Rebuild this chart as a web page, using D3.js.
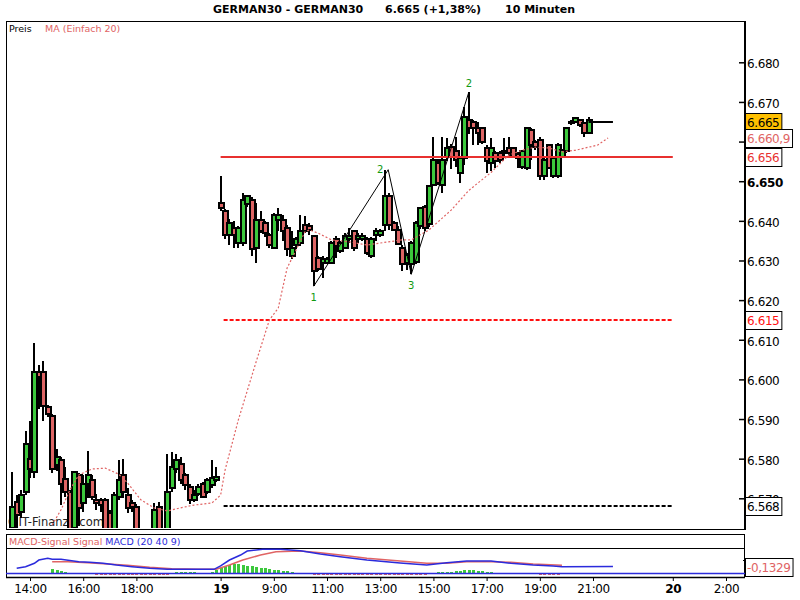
<!DOCTYPE html>
<html>
<head>
<meta charset="utf-8">
<script src="https://cdn.jsdelivr.net/npm/d3@7"></script>
<style>
  body { margin: 0; background: #fff; }
  text { font-family: "DejaVu Sans", Verdana, sans-serif; }
</style>
</head>
<body>
<svg width="800" height="600"></svg>
<script>
// 10-minute bars, slot 0 = 14:00 on the 18th (night hours removed)
const candleSlot = [-4, -3, -2, -1, 0, 1, 2, 3, 4, 5, 6, 7, 8, 9, 10, 11, 12, 13, 14, 15, 16, 17, 18, 19, 20, 21, 22, 23, 24, 25, 26, 27, 28, 29, 30, 31, 32, 33, 34, 35, 36, 37, 38, 39, 40, 41, 42,
  43, 44, 45, 46, 47, 48, 49, 50, 51, 52, 53, 54, 55, 56, 57, 58, 59, 60, 61, 62, 63, 64, 65, 66, 67, 68, 69, 70, 71, 72, 73, 74, 75, 76, 77, 78, 79, 80, 81, 82, 83, 84,
  85, 86, 87, 88, 89, 90, 91, 92, 93, 94, 95, 96, 97, 98, 99, 100, 101, 102, 103, 104, 105, 106, 107, 108, 109, 110, 111, 112, 113, 114, 115, 116, 117, 118, 119, 120, 121, 122, 123, 124, 125, 126];
const candleOpen = [6562.5, 6569.1, 6566.6, 6571.6, 6580.0, 6576.7, 6601.8, 6601.8, 6593.0, 6590.7, 6578.3, 6579.6, 6574.8, 6571.6, 6562.5, 6575.8, 6568.7, 6573.7, 6574.5, 6569.5, 6569.5, 6569.5, 6566.2, 6562.0, 6570.4, 6575.8, 6570.8, 6568.7, 6567.9, 6561.0, 6558.0, 6560.0, 6561.0, 6567.9, 6562.0, 6560.5, 6572.5, 6577.5, 6578.7, 6575.8, 6572.9, 6569.5, 6571.0, 6573.7, 6571.6, 6573.3, 6574.5,
  6644.5, 6642.4, 6636.5, 6638.2, 6634.4, 6634.4, 6644.3, 6645.3, 6633.2, 6640.3, 6639.5, 6636.5, 6633.2, 6640.3, 6640.3, 6638.2, 6631.1, 6634.0, 6634.4, 6639.0, 6638.6, 6636.1, 6630.7, 6629.4, 6629.4, 6629.4, 6635.3, 6632.4, 6633.2, 6635.3, 6637.4, 6635.3, 6635.3, 6635.3, 6631.1, 6636.5, 6636.5, 6639.0, 6646.2, 6639.5, 6637.8, 6633.2,
  6629.4, 6629.0, 6629.5, 6638.6, 6643.6, 6639.1, 6649.1, 6654.5, 6649.1, 6656.2, 6658.7, 6657.5, 6652.0, 6655.8, 6665.4, 6665.0, 6663.3, 6663.3, 6658.3, 6654.5, 6657.1, 6657.1, 6657.1, 6658.3, 6658.3, 6656.9, 6653.5, 6653.3, 6662.9, 6660.0, 6660.4, 6651.2, 6659.1, 6651.2, 6651.2, 6656.2, 6657.5, 6664.6, 6665.0, 6665.4, 6664.6, 6662.1];
const candleHigh = [6576.7, 6570.8, 6572.0, 6587.1, 6589.6, 6609.3, 6603.6, 6604.7, 6593.5, 6591.3, 6582.5, 6580.4, 6577.9, 6572.0, 6577.0, 6576.5, 6575.8, 6582.0, 6576.0, 6571.0, 6570.0, 6570.0, 6567.0, 6571.5, 6579.6, 6580.0, 6572.5, 6569.5, 6568.5, 6562.5, 6561.0, 6562.0, 6568.7, 6569.0, 6562.5, 6581.2, 6581.8, 6581.2, 6580.4, 6576.5, 6573.5, 6572.0, 6573.5, 6574.2, 6575.0, 6579.6, 6578.0,
  6651.4, 6643.0, 6640.5, 6639.9, 6638.6, 6647.0, 6646.6, 6646.0, 6644.5, 6642.4, 6640.0, 6637.0, 6642.0, 6643.2, 6641.6, 6639.0, 6637.4, 6636.0, 6641.6, 6641.2, 6639.5, 6636.5, 6631.1, 6631.1, 6631.0, 6634.8, 6636.1, 6635.0, 6637.0, 6638.2, 6637.8, 6637.0, 6637.0, 6636.0, 6635.8, 6638.2, 6638.0, 6652.9, 6647.0, 6640.0, 6638.6, 6634.0,
  6632.0, 6635.0, 6640.0, 6643.5, 6644.0, 6649.0, 6661.2, 6655.5, 6661.2, 6661.0, 6659.5, 6661.2, 6656.0, 6668.8, 6672.5, 6665.5, 6665.0, 6663.8, 6659.1, 6660.8, 6657.5, 6657.5, 6660.8, 6661.2, 6658.7, 6657.3, 6658.0, 6663.5, 6663.3, 6660.5, 6661.2, 6655.8, 6659.5, 6656.0, 6659.6, 6658.0, 6663.8, 6665.4, 6666.3, 6665.8, 6665.0, 6666.3];
const candleLow = [6561.0, 6561.0, 6565.0, 6570.8, 6575.0, 6575.0, 6592.6, 6589.6, 6590.5, 6576.3, 6577.0, 6568.3, 6570.4, 6560.0, 6560.0, 6563.0, 6566.5, 6570.0, 6569.5, 6567.0, 6566.6, 6560.0, 6560.0, 6560.0, 6569.5, 6570.0, 6566.2, 6566.6, 6560.0, 6556.0, 6555.0, 6557.0, 6559.0, 6560.0, 6558.0, 6560.0, 6571.5, 6576.5, 6573.5, 6572.0, 6568.5, 6569.0, 6570.5, 6570.0, 6571.0, 6572.5, 6574.0,
  6642.4, 6635.3, 6634.0, 6633.2, 6633.2, 6633.6, 6643.6, 6631.1, 6629.4, 6636.9, 6636.0, 6633.2, 6632.8, 6637.4, 6634.8, 6631.1, 6630.3, 6633.0, 6633.6, 6636.9, 6636.5, 6623.5, 6627.3, 6625.6, 6629.0, 6629.0, 6630.7, 6632.0, 6632.8, 6634.4, 6632.4, 6634.5, 6634.8, 6631.5, 6630.7, 6634.8, 6636.0, 6637.4, 6637.8, 6637.4, 6634.0, 6627.3,
  6627.5, 6626.5, 6629.0, 6638.0, 6637.5, 6638.5, 6648.7, 6649.0, 6647.0, 6655.0, 6653.0, 6653.7, 6649.5, 6654.0, 6662.0, 6659.1, 6659.1, 6659.5, 6652.0, 6652.5, 6653.3, 6654.5, 6655.8, 6656.2, 6655.8, 6653.3, 6653.0, 6652.9, 6655.4, 6658.0, 6650.4, 6650.4, 6653.0, 6650.8, 6650.8, 6655.8, 6657.0, 6664.2, 6664.8, 6663.8, 6661.2, 6661.8];
const candleClose = [6567.9, 6565.8, 6570.8, 6583.8, 6577.5, 6601.8, 6600.5, 6593.4, 6591.3, 6577.5, 6580.4, 6573.7, 6571.6, 6562.0, 6576.7, 6567.5, 6573.7, 6575.8, 6570.4, 6568.7, 6568.2, 6562.0, 6562.0, 6570.8, 6574.5, 6571.6, 6567.5, 6567.9, 6562.0, 6558.0, 6560.0, 6561.0, 6567.0, 6562.0, 6560.0, 6571.6, 6577.9, 6579.6, 6574.5, 6573.3, 6569.5, 6570.8, 6572.9, 6570.4, 6574.5, 6575.0, 6575.4,
  6643.2, 6636.5, 6639.5, 6636.5, 6638.2, 6645.3, 6646.3, 6632.8, 6640.3, 6637.4, 6637.0, 6634.0, 6641.6, 6641.6, 6637.4, 6632.8, 6633.2, 6635.3, 6637.4, 6637.4, 6637.6, 6627.3, 6627.8, 6630.3, 6630.3, 6634.4, 6633.6, 6634.4, 6636.3, 6636.3, 6633.2, 6636.1, 6636.3, 6631.9, 6635.3, 6637.4, 6637.4, 6646.2, 6639.0, 6637.8, 6634.2, 6629.0,
  6631.5, 6634.4, 6639.5, 6643.2, 6638.2, 6648.7, 6655.4, 6649.5, 6655.4, 6658.3, 6656.2, 6655.4, 6655.8, 6666.3, 6663.3, 6663.3, 6662.1, 6660.0, 6655.0, 6658.3, 6655.0, 6655.4, 6657.5, 6657.1, 6656.2, 6655.8, 6657.5, 6663.3, 6659.1, 6658.7, 6651.2, 6655.4, 6653.3, 6655.8, 6659.1, 6657.9, 6663.3, 6665.0, 6665.9, 6664.2, 6662.1, 6665.4];

// MA (Einfach 20)
const maSlot = [5, 7, 9, 11, 14, 17, 20, 22, 25, 28, 31, 34, 37, 41, 43, 44, 47, 51, 54, 56, 58, 60, 62, 63, 65, 68, 72, 76, 79, 84, 86, 90, 95, 99, 104, 108, 111, 114, 117, 120, 123, 128, 130.4];
const maValue = [6563.3, 6567.1, 6572.1, 6575.9, 6577.4, 6577.6, 6576.1, 6573.9, 6569.6, 6567.6, 6566.8, 6567.6, 6568.3, 6568.8, 6570.8, 6577.1, 6589.8, 6604.4, 6615.0, 6618.0, 6628.1, 6632.6, 6637.2, 6637.7, 6636.9, 6635.2, 6634.7, 6633.9, 6634.4, 6635.2, 6635.2, 6637.7, 6642.7, 6647.7, 6652.2, 6656.6, 6657.8, 6658.6, 6658.4, 6657.4, 6657.8, 6659.1, 6660.9];

// zigzag pivots
const zigSlot = [64, 80.8, 86, 99];
const zigValue = [6623.5, 6652.9, 6626.5, 6672.5];
const zigLabel = ['1', '2', '3', '2'];

// horizontal levels (from the start of the 19th to the 20th)
const levelValue = [6656, 6615, 6568];
const levelFrom = 43, levelTo = 145;
const lastPrice = 6665, lastFrom = 126, lastTo = 131.5;

// right axis
const priceTicks = [6570, 6580, 6590, 6600, 6610, 6620, 6630, 6640, 6650, 6660, 6670, 6680];
const boxValue = [6665, 6660.9, 6656, 6615, 6568];

// MACD (20 40 9)
const macdSlot = [-3, -1, 1, 2, 4, 5, 7, 11, 13.5, 16.5, 19.5, 23, 27, 31, 35, 38, 41.5, 43, 45, 47.5, 49, 52.5, 56.5, 61, 65.5, 70, 76, 83.5, 89.5, 94, 98.5, 104, 108.5, 113.5, 118, 120, 131.5];
const macdValue = [-2.1, -0.2, 3.7, 7.4, 9.4, 8.2, 8.2, 5.5, 4.8, 3.7, 1.7, -0.2, -2.1, -3.2, -3.2, -3.2, -3.2, 0.6, 7.4, 13.1, 17.7, 19.7, 19.7, 18.1, 14.3, 11.2, 7.4, 4.0, 1.7, 4.3, 6.3, 6.3, 3.7, 1.7, 0.6, -0.2, -0.1329];
const signalSlot = [5, 8.5, 13, 17.5, 22, 27, 32, 38, 42, 45, 48, 52, 55.5, 61, 65.5, 70, 76, 83.5, 89.5, 94, 98.5, 104, 108.5, 113.5, 120];
const signalValue = [5.5, 5.5, 4.3, 2.9, 1.4, -0.9, -2.5, -3.2, -3.2, 1.7, 7.4, 13.1, 16.9, 17.7, 15.8, 13.1, 9.4, 6.3, 3.7, 3.7, 5.5, 5.5, 4.8, 2.9, 1.4];
const histSlot = [5, 6, 7, 8,
  14, 15, 16, 17, 18, 19, 20, 21, 22, 23, 24, 25, 26, 27, 28, 29, 30, 31,
  33, 34, 35, 36, 37,
  41, 42, 43, 44, 45, 46, 47, 48, 49, 50, 51, 52, 53, 54, 55, 56, 57, 58, 59,
  64, 65, 66, 67, 68, 69, 70, 71, 72, 73, 74, 75, 76, 77, 78, 79, 80, 81, 82, 83, 84, 85, 86, 87, 88, 89,
  92, 93, 94, 95, 96, 97, 98, 99, 100, 101, 102, 103, 104,
  111, 115, 116, 117, 118, 119];
const histValue = [4, 3, 2.5, 1.5,
  -1, -1.5, -1.5, -2, -2, -2, -1.5, -2, -2, -2, -2, -2, -2, -2, -2, -1.5, -1.5, -1.5,
  1.5, 1.5, 1.5, 1.5, 1,
  1.3, 3.3, 5.5, 7, 8, 8.7, 8.7, 8.3, 7.5, 6.7, 6, 5.3, 4.7, 4, 3.3, 2.7, 2.3, 1.7, 1.3,
  -1.5, -2, -2, -2, -2, -2, -2, -2.3, -2, -2, -2, -2, -2, -2.3, -2, -2, -2, -2, -2, -2, -1.7, -1.7, -1.7, -1.7, -1.5, -1.5,
  1.3, 1.3, 1.3, 1.3, 1.7, 2, 2.7, 2.7, 2.7, 2, 1.7, 1.3, 1.3,
  -1, -1.5, -1.5, -1.5, -1.5, -1.5];
const macdLast = -0.1329;

// time axis
const tickSlot = [0, 12, 24, 43, 55, 67, 79, 91, 103, 115, 127, 145, 157];
const tickLabel = ['14:00', '16:00', '18:00', '19', '9:00', '11:00', '13:00', '15:00', '17:00', '19:00', '21:00', '20', '2:00'];
const dayTicks = ['19', '20'];

const titleParts = ['GERMAN30 - GERMAN30', '6.665 (+1,38%)', '10 Minuten'];

const GREEN = '#3cc83c', RED = '#dd6464', MA_RED = '#e06464', BLUE = '#2b2bdc';

const de = d3.formatLocale({decimal: ',', thousands: '.', grouping: [3], currency: ['', ' €'], minus: '-'});
const fmt0 = de.format(',.0f'), fmt1 = de.format(',.1f'), fmt4 = de.format('.4f');

const svg = d3.select('svg');
const P = {left: 6, right: 745, top: 21, bottom: 529};
const M = {top: 534, sep: 548, bottom: 577};

const x = d3.scaleLinear().domain([0, 127]).range([30, 593]);
const y = d3.scaleLinear().domain([6570, 6680]).range([498.3, 62.3]);
const yMacd = d3.scaleLinear().domain([-12, 20]).range([577, 549]);
const yHist = d3.scaleLinear().domain([-4, 9]).range([577, 564]);

// title
const title = svg.append('text').attr('y', 13).attr('font-size', 11).attr('font-weight', 'bold');
[213, 385, 505].forEach((px, i) => title.append('tspan').attr('x', px).text(titleParts[i]));

svg.append('defs').append('clipPath').attr('id', 'plotClip')
  .append('rect').attr('x', P.left + 1).attr('y', P.top + 1)
  .attr('width', P.right - P.left - 2).attr('height', P.bottom - P.top - 2);

// main frame
svg.append('rect').attr('x', P.left + 0.5).attr('y', P.top + 0.5)
  .attr('width', P.right - P.left).attr('height', P.bottom - P.top)
  .attr('fill', 'none').attr('stroke', '#000');

// legend
const leg = svg.append('text').attr('x', 9).attr('y', 32).attr('font-size', 9.5);
leg.append('tspan').attr('fill', '#000').text('Preis');
leg.append('tspan').attr('x', 45).attr('fill', MA_RED).text('MA (Einfach 20)');

const plot = svg.append('g').attr('clip-path', 'url(#plotClip)');

plot.append('text').attr('x', 7).attr('y', 526).attr('font-size', 11.5).attr('fill', '#222')
  .text('©IT-Finanze.com');

// candles
const candles = candleSlot.map((s, i) => ({s, o: candleOpen[i], h: candleHigh[i], l: candleLow[i], c: candleClose[i]}));
const cg = plot.selectAll('g.candle').data(candles).join('g').attr('class', 'candle')
  .attr('shape-rendering', 'crispEdges');
cg.append('line')
  .attr('x1', d => Math.round(x(d.s))).attr('x2', d => Math.round(x(d.s)))
  .attr('y1', d => Math.round(y(d.h))).attr('y2', d => Math.round(y(d.l)))
  .attr('stroke', '#000').attr('stroke-width', 2);
cg.append('rect')
  .attr('x', d => Math.round(x(d.s)) - 2.5).attr('width', 5)
  .attr('y', d => Math.round(y(Math.max(d.o, d.c))))
  .attr('height', d => Math.max(1, Math.round(y(Math.min(d.o, d.c))) - Math.round(y(Math.max(d.o, d.c)))))
  .attr('fill', d => d.c >= d.o ? GREEN : RED)
  .attr('stroke', '#000').attr('stroke-width', 2);

// levels
const levelStroke = ['#e8302f', '#ff1010', '#000'];
const levelDash = [null, '4,2', '4,2'];
levelValue.forEach((v, i) => {
  plot.append('line')
    .attr('x1', x(levelFrom) + (i ? 3 : 0)).attr('x2', x(levelTo))
    .attr('y1', Math.round(y(v))).attr('y2', Math.round(y(v)))
    .attr('stroke', levelStroke[i]).attr('stroke-width', 2)
    .attr('stroke-dasharray', levelDash[i]);
});

// last price line
plot.append('line')
  .attr('x1', x(lastFrom)).attr('x2', x(lastTo))
  .attr('y1', Math.round(y(lastPrice))).attr('y2', Math.round(y(lastPrice)))
  .attr('stroke', '#000').attr('stroke-width', 2);

// moving average
plot.append('path')
  .datum(maSlot.map((s, i) => [s, maValue[i]]))
  .attr('d', d3.line().x(d => x(d[0])).y(d => y(d[1])))
  .attr('fill', 'none').attr('stroke', MA_RED).attr('stroke-width', 1.2)
  .attr('stroke-dasharray', '2,2');

// zigzag
plot.append('path')
  .datum(zigSlot.map((s, i) => [s, zigValue[i]]))
  .attr('d', d3.line().x(d => x(d[0])).y(d => y(d[1])))
  .attr('fill', 'none').attr('stroke', '#000').attr('stroke-width', 1);
plot.selectAll('text.zig').data(zigLabel).join('text').attr('class', 'zig')
  .attr('x', (d, i) => x(zigSlot[i]) - (i === 1 ? 8 : 0))
  .attr('y', (d, i) => {
    const isHigh = (i > 0 && zigValue[i] > zigValue[i - 1]);
    return isHigh ? y(zigValue[i]) - (i === 1 ? -3 : 5) : y(zigValue[i]) + 15;
  })
  .attr('text-anchor', 'middle').attr('font-size', 10).attr('fill', '#109a10')
  .text(d => d);

// right price axis
const yAxis = svg.append('g').attr('transform', `translate(${P.right},0)`)
  .call(d3.axisRight(y).tickValues(priceTicks).tickSize(-6).tickPadding(2).tickFormat(fmt0));
yAxis.select('.domain').remove();
yAxis.selectAll('text').attr('font-family', '"DejaVu Sans", Verdana, sans-serif')
  .attr('font-size', 12).attr('letter-spacing', -0.4).attr('dy', '0.45em')
  .attr('font-weight', d => d === 6650 ? 'bold' : null);
yAxis.selectAll('line').attr('stroke-width', 1.5);
svg.append('line').attr('x1', P.right).attr('x2', P.right).attr('y1', P.top).attr('y2', P.bottom + 1)
  .attr('stroke', '#000').attr('stroke-width', 2);

// value boxes on the axis
const boxFill = ['#ffc000', '#fff', '#fff', '#fff', '#fff'];
const boxText = ['#000', MA_RED, '#e8302f', '#ff1010', '#000'];
function valueBox(yc, label, fill, color) {
  const g = svg.append('g');
  const r = g.append('rect').attr('x', P.right + 0.5).attr('y', Math.round(yc) - 8.5)
    .attr('height', 18).attr('fill', fill).attr('stroke', '#000').attr('stroke-width', 1);
  const t = g.append('text').attr('x', P.right + 2).attr('y', Math.round(yc) + 5)
    .attr('font-size', 12).attr('letter-spacing', -0.4).attr('fill', color).text(label);
  r.attr('width', t.node().getComputedTextLength() + 4);
}
boxValue.forEach((v, i) => valueBox(y(v), Number.isInteger(v) ? fmt0(v) : fmt1(v), boxFill[i], boxText[i]));

// MACD panel
svg.append('rect').attr('x', P.left + 0.5).attr('y', M.top + 0.5)
  .attr('width', P.right - P.left - 1).attr('height', M.bottom - M.top)
  .attr('fill', 'none').attr('stroke', '#000');
svg.append('line').attr('x1', P.left).attr('x2', P.right).attr('y1', M.sep + 0.5).attr('y2', M.sep + 0.5)
  .attr('stroke', '#000');
const mleg = svg.append('text').attr('x', 9).attr('y', 545).attr('font-size', 9.5);
mleg.append('tspan').attr('fill', MA_RED).text('MACD-Signal Signal ');
mleg.append('tspan').attr('fill', BLUE).text('MACD (20 40 9)');

const mg = svg.append('g');
mg.selectAll('rect').data(histSlot).join('rect')
  .attr('shape-rendering', 'crispEdges')
  .attr('x', d => Math.round(x(d)) - 1).attr('width', 3)
  .attr('y', (d, i) => Math.round(Math.min(yHist(0), yHist(histValue[i]))))
  .attr('height', (d, i) => Math.max(1, Math.round(Math.abs(yHist(histValue[i]) - yHist(0)))))
  .attr('fill', (d, i) => histValue[i] >= 0 ? GREEN : MA_RED);
mg.append('line').attr('x1', P.left).attr('x2', P.right)
  .attr('y1', Math.round(yHist(0)) + 0.5).attr('y2', Math.round(yHist(0)) + 0.5)
  .attr('stroke', BLUE).attr('stroke-width', 1.5);
mg.append('path').datum(signalSlot.map((s, i) => [s, signalValue[i]]))
  .attr('d', d3.line().x(d => x(d[0])).y(d => yMacd(d[1])))
  .attr('fill', 'none').attr('stroke', MA_RED).attr('stroke-width', 1.5);
mg.append('path').datum(macdSlot.map((s, i) => [s, macdValue[i]]))
  .attr('d', d3.line().x(d => x(d[0])).y(d => yMacd(d[1])))
  .attr('fill', 'none').attr('stroke', BLUE).attr('stroke-width', 1.5);
svg.append('line').attr('x1', P.right - 2).attr('x2', P.right + 3).attr('y1', 560.5).attr('y2', 560.5).attr('stroke', '#000');
valueBox(yMacd(macdLast), fmt4(macdLast), '#fff', MA_RED);

// time axis
const xAxis = svg.append('g').attr('transform', `translate(0,${M.bottom})`)
  .call(d3.axisBottom(x).tickValues(tickSlot).tickSize(4).tickPadding(3)
    .tickFormat((d, i) => tickLabel[i]));
xAxis.select('.domain').remove();
xAxis.selectAll('text').attr('font-family', '"DejaVu Sans", Verdana, sans-serif')
  .attr('font-size', 12).attr('letter-spacing', -0.4).attr('fill', '#000')
  .attr('font-weight', (d, i) => dayTicks.includes(tickLabel[i]) ? 'bold' : null);
svg.append('line').attr('x1', P.left).attr('x2', P.right).attr('y1', M.bottom + 0.5).attr('y2', M.bottom + 0.5)
  .attr('stroke', '#000').attr('stroke-width', 1.5);
</script>
</body>
</html>
